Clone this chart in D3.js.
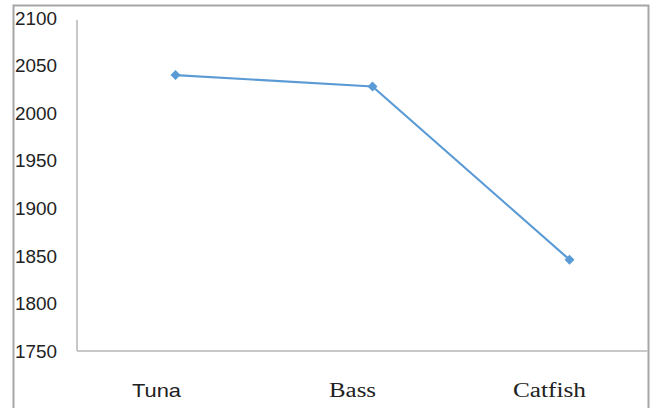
<!DOCTYPE html>
<html><head><meta charset="utf-8">
<script src="https://cdn.jsdelivr.net/npm/d3@7"></script>
<style>body{margin:0;background:#fff;} svg{display:block;}</style>
</head><body>
<script>
const categories = ["Tuna", "Bass", "Catfish"];
const values = [2040, 2028, 1846];
const yTicks = [1750, 1800, 1850, 1900, 1950, 2000, 2050, 2100];
const labelFonts = ["Liberation Sans", "Liberation Serif", "Liberation Serif"];
const labelWidths = [49, 47, 73];

const W = 655, H = 408;
const svg = d3.select("body").append("svg").attr("width", W).attr("height", H);

// outer frame
svg.append("path").attr("d", "M13.5,408 V5.5 H648.5 V408")
  .attr("fill", "none").attr("stroke", "#a6a6a6").attr("stroke-width", 2);

const x = d3.scalePoint().domain(categories).range([77, 668]).padding(0.5);
const y = d3.scaleLinear().domain([1750, 2100]).range([351, 18]);

// axes lines
svg.append("line").attr("x1", 77).attr("x2", 77).attr("y1", 20).attr("y2", y(1750))
  .attr("stroke", "#c8c8c8").attr("stroke-width", 2);
svg.append("line").attr("x1", 77).attr("x2", 648).attr("y1", y(1750)).attr("y2", y(1750))
  .attr("stroke", "#c8c8c8").attr("stroke-width", 2);

// y tick labels
svg.append("g").selectAll("text").data(yTicks).join("text")
  .style("font-family", "Liberation Sans")
  .attr("x", 15).attr("y", d => y(d)).attr("dy", "0.36em")
  .attr("font-size", 18.5).attr("fill", "#222")
  .attr("textLength", 42).attr("lengthAdjust", "spacingAndGlyphs")
  .text(d => d);

// x labels
svg.append("g").selectAll("text").data(categories).join("text")
  .style("font-family", (d, i) => labelFonts[i])
  .attr("x", (d, i) => x(d) - 19 - (i === 0 ? 0 : 1) - labelWidths[i] / 2)
  .attr("y", 397)
  .attr("font-size", (d, i) => i === 0 ? 18.5 : 20.5)
  .attr("textLength", (d, i) => labelWidths[i]).attr("lengthAdjust", "spacingAndGlyphs")
  .attr("fill", "#222")
  .text(d => d);

const pts = categories.map((c, i) => [x(c), y(values[i])]);
svg.append("path").datum(pts)
  .attr("d", d3.line())
  .attr("fill", "none").attr("stroke", "#5b9bd5").attr("stroke-width", 2.2);

svg.append("g").selectAll("path").data(pts).join("path")
  .attr("transform", d => `translate(${d[0]},${d[1]}) rotate(45)`)
  .attr("d", d3.symbol(d3.symbolSquare, 50)())
  .attr("fill", "#5b9bd5");
</script>
</body></html>
